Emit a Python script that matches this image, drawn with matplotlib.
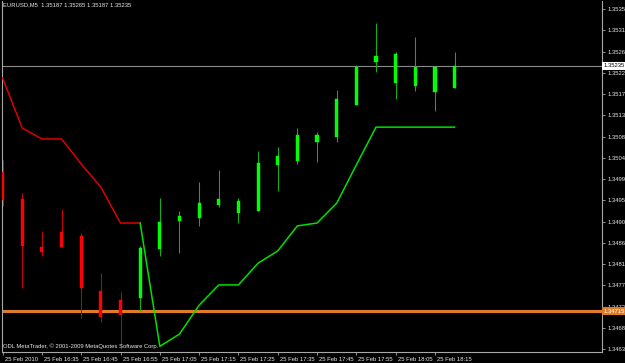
import matplotlib
matplotlib.use("Agg")
import matplotlib.pyplot as plt
import matplotlib.transforms as mtransforms

# ---------------- data ----------------
bar_idx = list(range(24))
opens  = [1.35010, 1.34953, 1.34851, 1.34883, 1.34874, 1.34758, 1.34739, 1.34743,
          1.34847, 1.34906, 1.34912, 1.34940, 1.34923, 1.34927, 1.35025, 1.35033,
          1.35073, 1.35084, 1.35152, 1.35243, 1.35198, 1.35192, 1.35179, 1.35187]
highs  = [1.35035, 1.34965, 1.34885, 1.34931, 1.34881, 1.34796, 1.34756, 1.34853,
          1.34955, 1.34927, 1.34989, 1.35014, 1.34955, 1.35054, 1.35063, 1.35103,
          1.35095, 1.35183, 1.35236, 1.35325, 1.35264, 1.35296, 1.35232, 1.35265]
lows   = [1.34938, 1.34764, 1.34832, 1.34851, 1.34701, 1.34692, 1.34635, 1.34715,
          1.34832, 1.34838, 1.34895, 1.34936, 1.34902, 1.34927, 1.34970, 1.35027,
          1.35031, 1.35073, 1.35152, 1.35222, 1.35164, 1.35181, 1.35139, 1.35187]
closes = [1.34950, 1.34853, 1.34840, 1.34851, 1.34764, 1.34703, 1.34707, 1.34849,
          1.34904, 1.34917, 1.34944, 1.34953, 1.34948, 1.35029, 1.35044, 1.35088,
          1.35088, 1.35164, 1.35232, 1.35255, 1.35260, 1.35232, 1.35232, 1.35235]

red_idx = [0, 1, 2, 3, 4, 5, 6, 7]
red_line = [1.35209, 1.35103, 1.35080, 1.35080, 1.35027, 1.34978, 1.34902, 1.34902]
green_idx = [7, 8, 9, 10, 11, 12, 13, 14, 15, 16, 17, 18, 19, 20, 21, 22, 23]
green_line = [1.34902, 1.34641, 1.34667, 1.34728, 1.34771, 1.34771, 1.34817, 1.34843,
              1.34896, 1.34902, 1.34944, 1.35025, 1.35105, 1.35105, 1.35105, 1.35105, 1.35105]

level_price = 1.34715
bid_price = 1.35235

y_ticks = [1.35355, 1.35310, 1.35265, 1.35220, 1.35175, 1.35130, 1.35085, 1.35040,
           1.34995, 1.34950, 1.34905, 1.34860, 1.34815, 1.34770, 1.34725, 1.34680, 1.34635]
x_tick_idx = [0, 2, 4, 6, 8, 10, 12, 14, 16, 18, 20, 22]
x_tick_labels = ["25 Feb 2010", "25 Feb 16:35", "25 Feb 16:45", "25 Feb 16:55",
                 "25 Feb 17:05", "25 Feb 17:15", "25 Feb 17:25", "25 Feb 17:35",
                 "25 Feb 17:45", "25 Feb 17:55", "25 Feb 18:05", "25 Feb 18:15"]
title_text = "EURUSD,M5  1.35187 1.35265 1.35187 1.35235"
copyright_text = "ODL MetaTrader, \u00a9 2001-2009 MetaQuotes Software Corp."

# ---------------- figure ----------------
plt.rcParams['font.family'] = ['Liberation Sans', 'DejaVu Sans']
FS = 4.2
TXT = '#E8E8E8'
AX = '#A8A8A8'

fig = plt.figure(figsize=(6.25, 3.63), dpi=100, facecolor='black')
ax = fig.add_axes([2/625, 11/363, 600/625, 351/363], facecolor='black')

# horizontal lines
ax.axhline(level_price, color='#E07B27', lw=2.2, zorder=1)
ax.axhline(bid_price, color='#8A8A8A', lw=0.8, zorder=1)

# candles
for i, o, h, l, c in zip(bar_idx, opens, highs, lows, closes):
    up = c >= o
    wick = '#12B012' if up else '#C80000'
    body = '#00FF00' if up else '#FF0000'
    ax.vlines(i, l, h, color=wick, lw=0.75, zorder=2)
    lo, hi = min(o, c), max(o, c)
    ax.bar(i, max(hi - lo, 0.00002), bottom=lo, width=0.16, color=body,
           edgecolor=body, linewidth=0.3, zorder=3)

# indicator lines
ax.plot(red_idx, red_line, color='#DD0000', lw=1.1, zorder=4)
ax.plot(green_idx, green_line, color='#00E000', lw=1.1, zorder=4)

ax.set_xlim(-0.03, 30.5)
ax.set_ylim(1.34629, 1.35372)

# spines
for s in ['left', 'right', 'bottom']:
    ax.spines[s].set_color(AX)
    ax.spines[s].set_linewidth(0.8)
ax.spines['top'].set_visible(False)

# y axis on right
ax.yaxis.tick_right()
ax.set_yticks(y_ticks)
ax.set_yticklabels([f"{v:.5f}" for v in y_ticks])
ax.tick_params(axis='y', colors=AX, labelcolor=TXT, length=2.5, width=0.6,
               direction='out', pad=1.2, labelsize=FS)

# x axis
ax.set_xticks(x_tick_idx)
ax.set_xticklabels(x_tick_labels)
ax.tick_params(axis='x', colors=AX, labelcolor=TXT, length=2.5, width=0.6,
               direction='out', pad=1.2, labelsize=FS)
offset = mtransforms.ScaledTranslation(2/100, 0, fig.dpi_scale_trans)
for lab in ax.get_xticklabels():
    lab.set_horizontalalignment('left')
    lab.set_transform(lab.get_transform() + offset)

# texts
ax.text(0.002, 0.997, title_text, transform=ax.transAxes, color=TXT,
        fontsize=FS, va='top', ha='left')
ax.text(0.002, 0.008, copyright_text, transform=ax.transAxes, color=TXT,
        fontsize=FS, va='bottom', ha='left')

blend = mtransforms.blended_transform_factory(ax.transAxes, ax.transData)
ax.text(1.002, bid_price, f"{bid_price:.5f}", transform=blend, color='black',
        fontsize=FS, va='center', ha='left', clip_on=False, zorder=10,
        bbox=dict(boxstyle='square,pad=0.25', fc='white', ec='none'))
ax.text(1.002, level_price, f"{level_price:.5f}", transform=blend, color='white',
        fontsize=FS, va='center', ha='left', clip_on=False, zorder=10,
        bbox=dict(boxstyle='square,pad=0.25', fc='#E07B27', ec='none'))

fig.savefig('out.png', dpi=100, facecolor='black')
